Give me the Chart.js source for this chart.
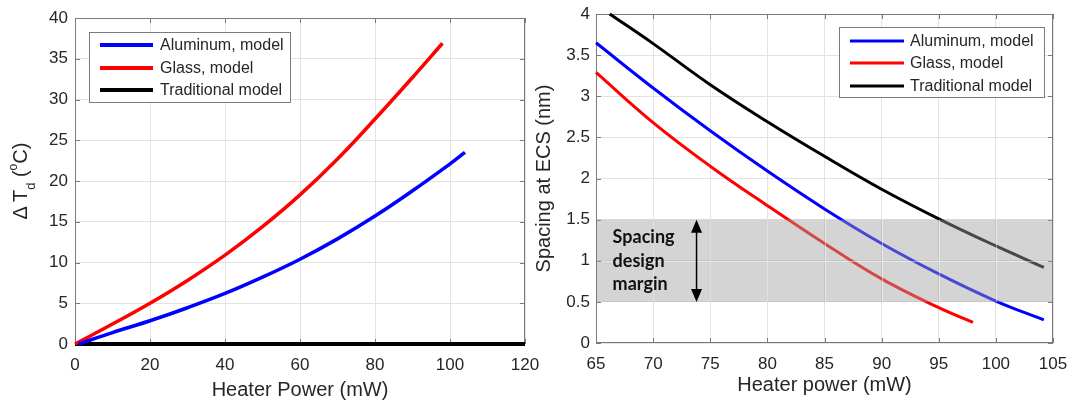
<!DOCTYPE html>
<html>
<head>
<meta charset="utf-8">
<script src="https://cdn.jsdelivr.net/npm/chart.js@4.4.1/dist/chart.umd.min.js"></script>
<style>
  html, body { margin: 0; padding: 0; background: #fff; }
  body { width: 1081px; height: 404px; position: relative; overflow: hidden; }
  canvas { position: absolute; top: 0; }
  #leftChart { left: 0; }
  #rightChart { left: 532px; }
</style>
</head>
<body>
<canvas id="leftChart" width="540" height="404"></canvas>
<canvas id="rightChart" width="549" height="404"></canvas>
<script>
// series shared by both panels
const seriesNames = ['Aluminum, model', 'Glass, model', 'Traditional model'];
const seriesColors = ['#0000ff', '#ff0000', '#000000'];

// left panel: temperature rise vs heater power
const riseAlPower = [1, 10, 20, 30, 40, 50, 60, 70, 80, 90, 100, 104];
const riseAl = [0, 1.4, 2.85, 4.45, 6.2, 8.2, 10.4, 12.9, 15.7, 18.8, 22.1, 23.5];
const riseGlassPower = [0, 10, 20, 30, 40, 50, 60, 70, 80, 90, 98];
const riseGlass = [0, 2.45, 5.0, 7.8, 10.9, 14.4, 18.3, 22.7, 27.6, 32.7, 36.9];
const riseTradPower = [0, 120];
const riseTrad = [0, 0];
const leftXTicks = [0, 20, 40, 60, 80, 100, 120];
const leftYTicks = [0, 5, 10, 15, 20, 25, 30, 35, 40];

// right panel: spacing at ECS vs heater power
const spacingAlPower = [65, 70, 75, 80, 85, 90, 95, 100, 104.2];
const spacingAl = [3.65, 3.10, 2.58, 2.09, 1.63, 1.21, 0.84, 0.51, 0.28];
const spacingGlassPower = [65, 70, 75, 80, 85, 90, 95, 98];
const spacingGlass = [3.29, 2.68, 2.15, 1.67, 1.21, 0.78, 0.43, 0.25];
const spacingTradPower = [66.2, 70, 75, 80, 85, 90, 95, 100, 104.2];
const spacingTrad = [4.0, 3.64, 3.14, 2.69, 2.27, 1.87, 1.51, 1.18, 0.92];
const rightXTicks = [65, 70, 75, 80, 85, 90, 95, 100, 105];
const rightYTicks = [0, 0.5, 1, 1.5, 2, 2.5, 3, 3.5, 4];
const marginRange = [0.5, 1.5];
const marginLabel = ['Spacing', 'design', 'margin'];

const FONT = '"Liberation Sans", Arial, sans-serif';
const TEXT = '#262626';
const GRID = '#e3e3e3';
const FRAME = '#7a7a7a';

const toPoints = (xs, ys) => xs.map((x, i) => ({ x: x, y: ys[i] }));

function lineSet(i, xs, ys, width) {
  return {
    label: seriesNames[i],
    data: toPoints(xs, ys),
    borderColor: seriesColors[i],
    backgroundColor: seriesColors[i],
    borderWidth: width,
    pointRadius: 0,
    tension: 0.4,
    clip: 4,
    fill: false
  };
}

// box + inward tick marks, matlab style
const framePlugin = {
  id: 'frame',
  beforeDatasetsDraw(chart) {
    const { ctx, chartArea: a, scales: { x, y } } = chart;
    ctx.save();
    ctx.strokeStyle = FRAME;
    ctx.lineWidth = 1;
    ctx.strokeRect(a.left + 0.5, a.top + 0.5, a.right - a.left - 1, a.bottom - a.top - 1);
    ctx.beginPath();
    x.ticks.forEach(t => {
      const px = Math.round(x.getPixelForValue(t.value)) + 0.5;
      ctx.moveTo(px, a.bottom); ctx.lineTo(px, a.bottom - 5);
      ctx.moveTo(px, a.top); ctx.lineTo(px, a.top + 5);
    });
    y.ticks.forEach(t => {
      const py = Math.round(y.getPixelForValue(t.value)) + 0.5;
      ctx.moveTo(a.left, py); ctx.lineTo(a.left + 5, py);
      ctx.moveTo(a.right, py); ctx.lineTo(a.right - 5, py);
    });
    ctx.stroke();
    ctx.restore();
  }
};

function legendBox(box) {
  return {
    id: 'legendBox',
    afterDraw(chart) {
      const ctx = chart.ctx;
      ctx.save();
      ctx.fillStyle = '#ffffff';
      ctx.fillRect(box.left, box.top, box.width, box.height);
      ctx.strokeStyle = FRAME;
      ctx.lineWidth = 1;
      ctx.strokeRect(box.left + 0.5, box.top + 0.5, box.width, box.height);
      chart.data.datasets.forEach((ds, i) => {
        const yy = box.rows[i];
        ctx.strokeStyle = ds.borderColor;
        ctx.lineWidth = box.lineWidth;
        ctx.beginPath();
        ctx.moveTo(box.lineX0, yy);
        ctx.lineTo(box.lineX1, yy);
        ctx.stroke();
        ctx.fillStyle = TEXT;
        ctx.font = '16px ' + FONT;
        ctx.textBaseline = 'middle';
        ctx.fillText(ds.label, box.textX, yy + 1);
      });
      ctx.restore();
    }
  };
}

// "ΔT_d (°C)" with sub/superscript
const deltaTitle = {
  id: 'deltaTitle',
  afterDraw(chart) {
    const ctx = chart.ctx;
    const a = chart.chartArea;
    const parts = [
      { t: '\u0394\u2009T', size: 20, dy: 0 },
      { t: 'd', size: 13, dy: 8 },
      { t: ' (', size: 20, dy: 0 },
      { t: 'o', size: 12, dy: -10 },
      { t: 'C)', size: 20, dy: 0 }
    ];
    ctx.save();
    ctx.translate(20, (a.top + a.bottom) / 2);
    ctx.rotate(-Math.PI / 2);
    ctx.fillStyle = TEXT;
    ctx.textBaseline = 'alphabetic';
    let total = 0;
    parts.forEach(p => { ctx.font = p.size + 'px ' + FONT; p.w = ctx.measureText(p.t).width; total += p.w; });
    let cx = -total / 2;
    parts.forEach(p => {
      ctx.font = p.size + 'px ' + FONT;
      ctx.fillText(p.t, cx, 7 + p.dy);
      cx += p.w;
    });
    ctx.restore();
  }
};

// shaded design margin with double arrow and label
const marginPlugin = {
  id: 'margin',
  afterDatasetsDraw(chart) {
    const { ctx, chartArea: a, scales: { x, y } } = chart;
    const yTop = y.getPixelForValue(marginRange[1]);
    const yBot = y.getPixelForValue(marginRange[0]);
    ctx.save();
    ctx.fillStyle = 'rgba(160,160,160,0.45)';
    ctx.fillRect(a.left + 1, yTop, a.right - a.left - 2, yBot - yTop);
    // grid shows through a bit lighter
    ctx.strokeStyle = 'rgba(255,255,255,0.45)';
    ctx.lineWidth = 1;
    ctx.beginPath();
    x.ticks.forEach(t => {
      const px = Math.round(x.getPixelForValue(t.value)) + 0.5;
      if (px > a.left + 2 && px < a.right - 2) { ctx.moveTo(px, yTop); ctx.lineTo(px, yBot); }
    });
    const pm = Math.round(y.getPixelForValue(1)) + 0.5;
    ctx.moveTo(a.left + 6, pm); ctx.lineTo(a.right - 6, pm);
    ctx.stroke();

    // arrow
    const ax = x.getPixelForValue(73.8);
    ctx.strokeStyle = '#000';
    ctx.fillStyle = '#000';
    ctx.lineWidth = 1.5;
    ctx.beginPath();
    ctx.moveTo(ax, yTop + 10); ctx.lineTo(ax, yBot - 10);
    ctx.stroke();
    ctx.beginPath();
    ctx.moveTo(ax, yTop); ctx.lineTo(ax - 5.5, yTop + 13); ctx.lineTo(ax + 5.5, yTop + 13); ctx.closePath();
    ctx.moveTo(ax, yBot); ctx.lineTo(ax - 5.5, yBot - 13); ctx.lineTo(ax + 5.5, yBot - 13); ctx.closePath();
    ctx.fill();

    // label
    const tx = x.getPixelForValue(66.45);
    const mid = (yTop + yBot) / 2;
    ctx.fillStyle = '#111';
    ctx.font = 'bold 18px Lato, "Open Sans", sans-serif';
    ctx.textBaseline = 'middle';
    marginLabel.forEach((s, i) => ctx.fillText(s, tx, mid + (i - 1) * 23.5));
    ctx.restore();
  }
};

function axisOpts(ticksArr, min, max, opts) {
  return {
    type: 'linear',
    min: min,
    max: max,
    afterBuildTicks: s => { s.ticks = ticksArr.map(v => ({ value: v })); },
    afterFit: s => {
      opts.fit(s);
      // no extra room for overhanging edge labels
      s.paddingLeft = 0; s.paddingRight = 0; s.paddingTop = 0; s.paddingBottom = 0;
    },
    grid: { color: GRID, lineWidth: 1, drawTicks: false },
    border: { display: false },
    ticks: {
      color: TEXT, font: { family: FONT, size: 17 }, padding: opts.pad,
      callback: v => String(v)
    },
    title: opts.title ? {
      display: true, text: opts.title, color: TEXT,
      font: { family: FONT, size: 20 }, padding: opts.titlePad
    } : { display: false }
  };
}

new Chart(document.getElementById('leftChart').getContext('2d'), {
  type: 'line',
  data: {
    datasets: [
      lineSet(0, riseAlPower, riseAl, 3.5),
      lineSet(1, riseGlassPower, riseGlass, 3.5),
      lineSet(2, riseTradPower, riseTrad, 4)
    ]
  },
  options: {
    responsive: false,
    animation: false,
    devicePixelRatio: 1,
    layout: { padding: { top: 18, right: 15, left: 0, bottom: 0 } },
    plugins: { legend: { display: false }, tooltip: { enabled: false } },
    scales: {
      x: axisOpts(leftXTicks, 0, 120, {
        fit: s => { s.height = 60; }, pad: 11,
        title: 'Heater Power (mW)', titlePad: { top: 0, bottom: 2 }
      }),
      y: axisOpts(leftYTicks, 0, 40, {
        fit: s => { s.width = 75; }, pad: 7
      })
    }
  },
  plugins: [framePlugin, deltaTitle, legendBox({
    left: 89, top: 32, width: 201, height: 70,
    lineX0: 100, lineX1: 153, textX: 160, rows: [45, 68, 90], lineWidth: 4
  })]
});

new Chart(document.getElementById('rightChart').getContext('2d'), {
  type: 'line',
  data: {
    datasets: [
      lineSet(0, spacingAlPower, spacingAl, 3),
      lineSet(1, spacingGlassPower, spacingGlass, 3),
      lineSet(2, spacingTradPower, spacingTrad, 3)
    ]
  },
  options: {
    responsive: false,
    animation: false,
    devicePixelRatio: 1,
    layout: { padding: { top: 14, right: 28, left: 0, bottom: 0 } },
    plugins: { legend: { display: false }, tooltip: { enabled: false } },
    scales: {
      x: axisOpts(rightXTicks, 65, 105, {
        fit: s => { s.height = 61; }, pad: 11,
        title: 'Heater power (mW)', titlePad: { top: 0, bottom: 7 }
      }),
      y: axisOpts(rightYTicks, 0, 4, {
        fit: s => { s.width = 64; }, pad: 6,
        title: 'Spacing at ECS (nm)', titlePad: { top: 0, bottom: 0 }
      })
    }
  },
  plugins: [framePlugin, marginPlugin, legendBox({
    left: 307, top: 27, width: 205, height: 70,
    lineX0: 318, lineX1: 372, textX: 378, rows: [41, 63, 86], lineWidth: 3
  })]
});
</script>
</body>
</html>
